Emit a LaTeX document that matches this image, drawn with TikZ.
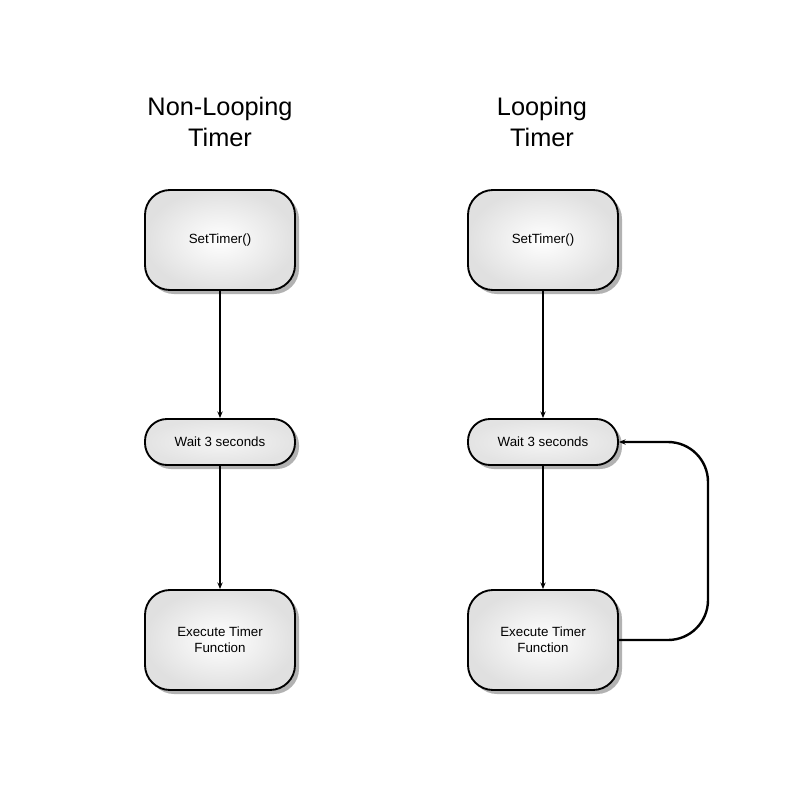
\documentclass[tikz,border=0pt]{standalone}
\usepackage{fontspec}
\setmainfont{Liberation Sans}
\usetikzlibrary{shadows,arrows.meta}
\begin{document}
\begin{tikzpicture}[x=0.75pt,y=-0.75pt,
  boxbase/.style={draw=black,line width=1.4pt,inner color=white,outer color=gray!24,
     drop shadow={shadow xshift=3pt,shadow yshift=-3pt,opacity=0.3,fill=black},
     align=center,font=\fontsize{10}{12}\selectfont},
  bigbox/.style={boxbase,minimum width=150*0.75pt,minimum height=100*0.75pt,rounded corners=25*0.75pt},
  waitbox/.style={boxbase,inner color=gray!8,outer color=gray!22,minimum width=150*0.75pt,minimum height=46*0.75pt,rounded corners=22*0.75pt},
  title/.style={align=center,font=\fontsize{19}{23}\selectfont},
  conn/.style={line width=1.4pt,-{Stealth[length=5pt,width=4pt]}}]
\useasboundingbox (0,0) rectangle (800,800);
\node[title] (t1) at (220,122) {Non-Looping\\Timer};
\node[title] (t2) at (542,122) {Looping\\Timer};
\node[bigbox] (s1) at (220,240) {SetTimer()};
\node[waitbox] (w1) at (220,442) {Wait 3 seconds};
\node[bigbox] (e1) at (220,640) {Execute Timer\\Function};
\node[bigbox] (s2) at (543,240) {SetTimer()};
\node[waitbox] (w2) at (543,442) {Wait 3 seconds};
\node[bigbox] (e2) at (543,640) {Execute Timer\\Function};
\draw[conn] (s1) -- (w1);
\draw[conn] (w1) -- (e1);
\draw[conn] (s2) -- (w2);
\draw[conn] (w2) -- (e2);
\draw[conn,line width=1.8pt,rounded corners=40*0.75pt] (e2.east) -- (708,640) -- (708,442) -- (w2.east);
\end{tikzpicture}
\end{document}
